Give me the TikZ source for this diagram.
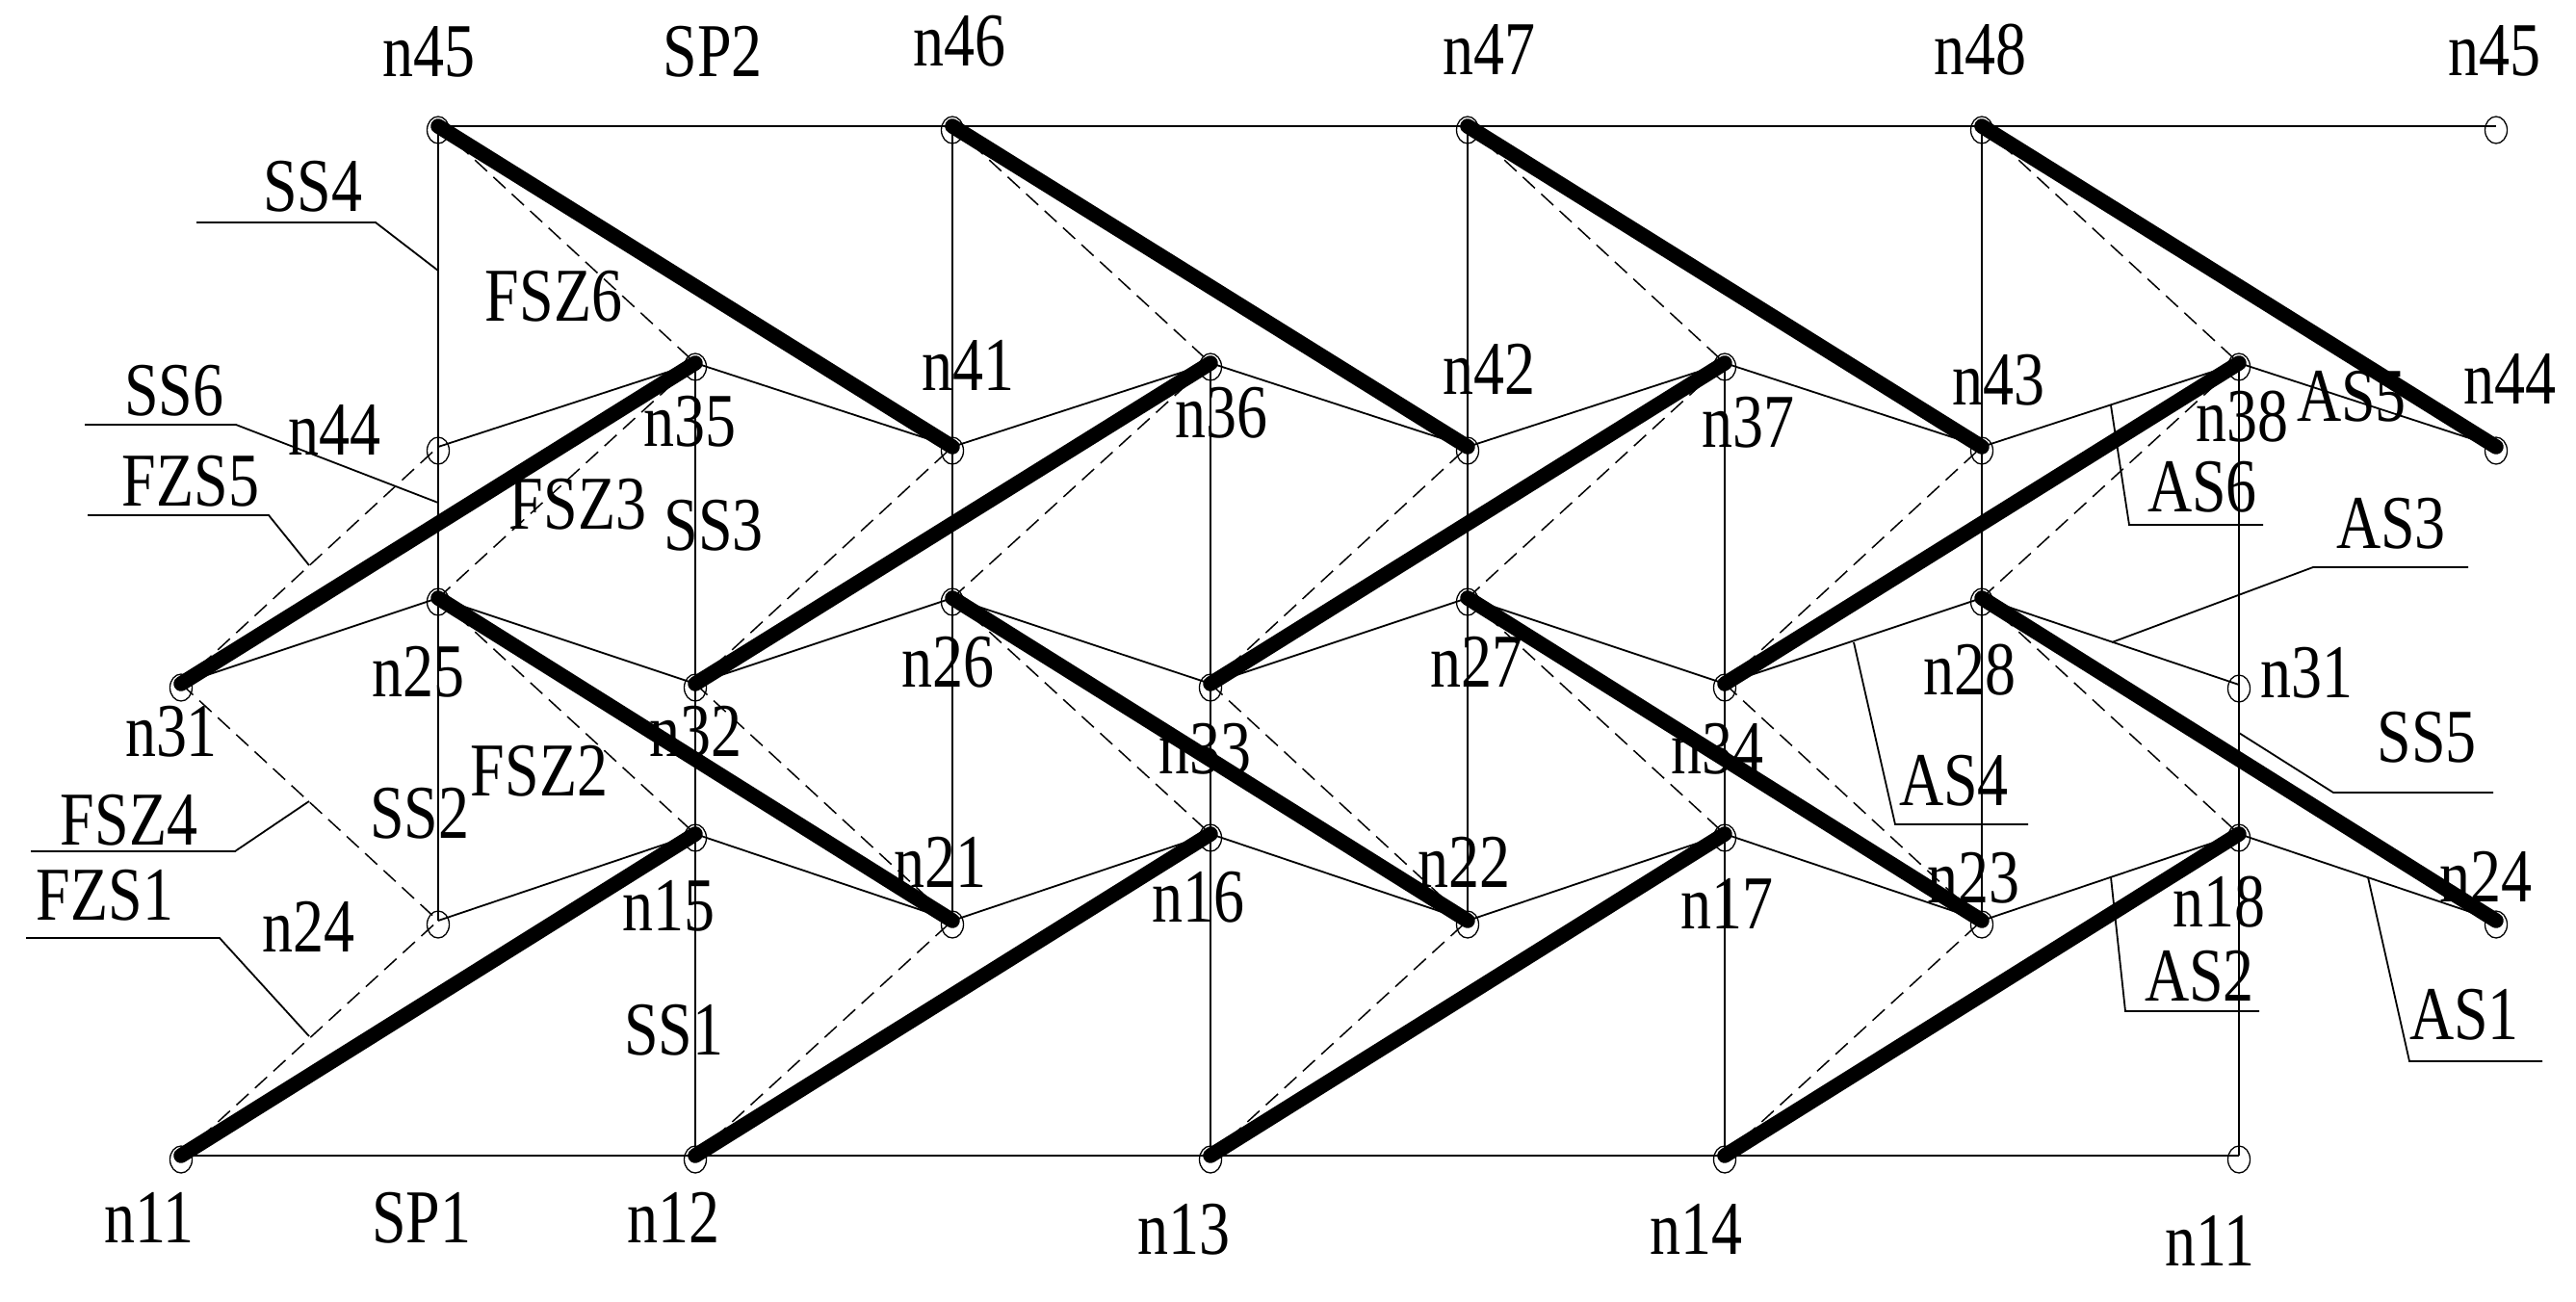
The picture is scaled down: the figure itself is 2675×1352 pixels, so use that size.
\documentclass[tikz,border=0pt]{standalone}
\usepackage{fontspec}
\setmainfont{Liberation Serif}[FakeStretch=0.81]
\usetikzlibrary{shapes.geometric}
\tikzset{
  x=1pt,y=-1pt,
  lab/.style={inner sep=0pt,anchor=base,font=\fontsize{79}{79}\selectfont},
  ring/.style={ellipse,draw,line width=1.3pt,minimum width=23pt,minimum height=28pt,inner sep=0pt,yshift=-4pt},
  thick line/.style={line width=15.5pt,line cap=round},
  chord/.style={line width=1.8pt},
  post/.style={line width=1.2pt},
  poststrong/.style={line width=2.4pt},
  rail/.style={line width=2.6pt},
  brace line/.style={line width=1.5pt,dash pattern=on 17pt off 9pt},
  leader/.style={line width=1.8pt},
}
\begin{document}
\begin{tikzpicture}
\useasboundingbox (0,0) rectangle (2675,1352);
% joints
\foreach \n/\x/\y in {
 n45a/455/131,n46/989/131,n47/1524/131,n48/2058/131,n45b/2592/131,
 n35/722/377,n36/1257/377,n37/1791/377,n38/2325/377,
 n44a/455/464,n41/989/464,n42/1524/464,n43/2058/464,n44b/2592/464,
 n25/455/621,n26/989/621,n27/1524/621,n28/2058/621,
 n31a/188/710,n32/722/710,n33/1257/710,n34/1791/710,n31b/2325/711,
 n15/722/866,n16/1257/866,n17/1791/866,n18/2325/866,
 n24a/455/956,n21/989/956,n22/1524/956,n23/2058/956,n24b/2592/956,
 n11a/188/1200,n12/722/1200,n13/1257/1200,n14/1791/1200,n11b/2325/1200}
 {\coordinate (\n) at (\x,\y); \node[ring] (r\n) at (\x,\y) {};}
% rails
\draw[rail] (n45a) -- (n45b);
\draw[rail] (n11a) -- (n11b);
% posts
\draw[post] (n45a) -- (n24a);
\draw[post] (n35) -- (n12);
\draw[post] (n46) -- (n21);
\draw[post] (n36) -- (n13);
\draw[post] (n47) -- (n22);
\draw[poststrong] (n37) -- (n14);
\draw[poststrong] (n48) -- (n23);
\draw[poststrong] (n38) -- (n11b);
% thin zigzags
\draw[chord] (n44a)--(n35)--(n41)--(n36)--(n42)--(n37)--(n43)--(n38)--(n44b);
\draw[chord] (n31a)--(n25)--(n32)--(n26)--(n33)--(n27)--(n34)--(n28)--(n31b);
\draw[chord] (n24a)--(n15)--(n21)--(n16)--(n22)--(n17)--(n23)--(n18)--(n24b);
% dashed braces
\foreach \a/\b in {
 n45a/n35,n46/n36,n47/n37,n48/n38,
 n31a/n44a,n32/n41,n33/n42,n34/n43,
 n25/n35,n26/n36,n27/n37,n28/n38,
 n25/n15,n26/n16,n27/n17,n28/n18,
 n31a/n24a,n32/n21,n33/n22,n34/n23,
 n11a/n24a,n12/n21,n13/n22,n14/n23}
 {\draw[brace line] (\a) -- (\b);}
% heavy members
\foreach \a/\b in {
 n45a/n41,n46/n42,n47/n43,n48/n44b,
 n31a/n35,n32/n36,n33/n37,n34/n38,
 n25/n21,n26/n22,n27/n23,n28/n24b,
 n11a/n15,n12/n16,n13/n17,n14/n18}
 {\draw[thick line] (\a) -- (\b);}
% leaders
\coordinate (kA) at (321,587); \coordinate (kB) at (321,832); \coordinate (kC) at (321,1076);
\coordinate (kD) at (455,281); \coordinate (kE) at (455,522);
\draw[leader] (204,231) -- (390,231) -- (kD);
\draw[leader] (88,441) -- (245,441) -- (kE);
\draw[leader] (91,535) -- (279,535) -- (kA);
\draw[leader] (32,884) -- (244,884) -- (kB);
\draw[leader] (27,974) -- (228,974) -- (kC);
\draw[leader] (2192,421) -- (2211,545) -- (2350,545);
\draw[leader] (2193,667) -- (2402,589) -- (2563,589);
\draw[leader] (2325,761) -- (2423,823) -- (2589,823);
\draw[leader] (1925,667) -- (1968,856) -- (2106,856);
\draw[leader] (2192,911) -- (2207,1050) -- (2346,1050);
\draw[leader] (2459,911) -- (2502,1102) -- (2640,1102);
% labels
\foreach \t/\x/\y in {
 n45/445/79,SP2/740/79,n46/996/68,n47/1546/77,n48/2056/77,n45/2590/78,
 SS4/325/219,FSZ6/575/333,SS6/181/431,n44/347/472,FZS5/198/525,n35/716/463,
 FSZ3/600/549,SS3/741/571,n41/1005/405,n25/434/723,n31/178/785,n32/722/785,
 FSZ2/560/826,SS2/436/870,FSZ4/134/877,FZS1/109/955,n24/320/988,n15/694/966,
 SS1/700/1095,n11/155/1290,SP1/438/1290,n12/699/1290,
 n36/1268/454,n42/1546/409,n37/1815/464,n43/2075/420,n38/2328/458,AS5/2442/437,
 n44/2606/419,AS6/2287/531,AS3/2483/569,n28/2045/721,n31/2395/724,SS5/2520/791,
 AS4/2029/836,n26/984/713,n27/1533/713,n33/1251/803,n34/1783/803,n21/976/921,
 n22/1520/921,n23/2049/937,n24/2581/936,n16/1244/957,n17/1793/964,n18/2304/962,
 AS2/2284/1039,AS1/2559/1079,n13/1229/1302,n14/1761/1302,n11/2295/1314}
 {\node[lab] (t\x) at (\x,\y) {\t};}
\end{tikzpicture}
\end{document}
